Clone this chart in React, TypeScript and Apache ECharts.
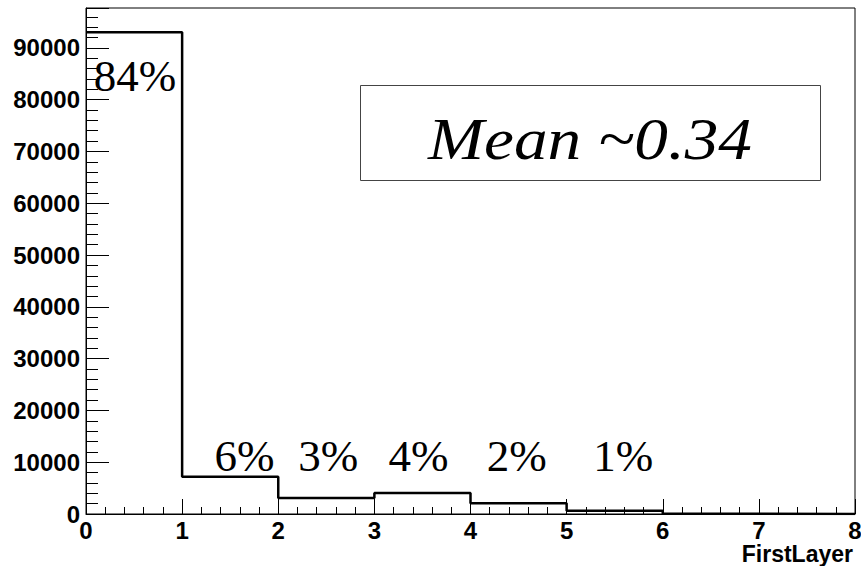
import { useEffect, useRef } from "react";
import * as echarts from "echarts";

// Histogram of the first layer hit: bin lower edges and entries per bin
const binEdges = [0, 1, 2, 3, 4, 5, 6, 7, 8];
const binCounts = [93000, 7200, 3100, 4050, 2060, 620, 60, 20];

// Share of entries written above the bins
const shareLabels = ["84%", "6%", "3%", "4%", "2%", "1%"];
const shareLabelX = [0.51, 1.65, 2.52, 3.46, 4.48, 5.59];
const shareLabelY = [84600, 11250, 11250, 11250, 11250, 11250];

const meanText = "Mean ~0.34";
const xTitle = "FirstLayer";

const Y_MAX = 97700;
const SANS = "'Liberation Sans', Arial, Helvetica, sans-serif";
const SERIF = "'Liberation Serif', 'Times New Roman', Times, serif";

export default function App() {
  const ref = useRef<HTMLDivElement>(null);

  useEffect(() => {
    if (!ref.current) return;
    const chart = echarts.init(ref.current, null, { renderer: "svg" });

    // step line through the bin edges; the last bin is closed at the upper edge
    const stepData = binEdges.map((x, i) => [x, binCounts[Math.min(i, binCounts.length - 1)]]);

    const tickFont = {
      color: "#000",
      fontFamily: SANS,
      fontWeight: "bold" as const,
      fontSize: 24,
      lineHeight: 18,
    };

    chart.setOption({
      animation: false,
      backgroundColor: "#fff",
      grid: {
        left: 86,
        right: 6,
        top: 8,
        bottom: 52,
        containLabel: false,
        outerBoundsMode: "none",
        show: true,
        borderColor: "#000",
        borderWidth: 1,
      },
      xAxis: {
        type: "value",
        min: 0,
        max: 8,
        interval: 1,
        axisLine: { show: true, lineStyle: { color: "#000", width: 1 } },
        axisTick: { show: true, inside: true, length: 15, lineStyle: { color: "#000", width: 1 } },
        minorTick: { show: true, splitNumber: 5, length: 7, lineStyle: { color: "#000", width: 1 } },
        splitLine: { show: false },
        axisLabel: { ...tickFont, margin: 7 },
      },
      yAxis: [
        {
          type: "value",
          position: "left",
          min: 0,
          max: Y_MAX,
          interval: 10000,
          axisLine: { show: true, lineStyle: { color: "#000", width: 1 } },
          axisTick: { show: true, inside: true, length: 23, lineStyle: { color: "#000", width: 1 } },
          splitLine: { show: false },
          axisLabel: {
            ...tickFont,
            margin: 6,
            formatter: (v: number) => (v % 10000 === 0 ? String(v) : ""),
          },
        },
        {
          // finer ticks every 2000 entries
          type: "value",
          position: "left",
          offset: 0,
          min: 0,
          max: Y_MAX,
          interval: 2000,
          axisLine: { show: false },
          axisTick: { show: true, inside: true, length: 12, lineStyle: { color: "#000", width: 1 } },
          axisLabel: { show: false },
          splitLine: { show: false },
        },
      ],
      series: [
        {
          type: "line",
          step: "end",
          data: stepData,
          symbol: "none",
          yAxisIndex: 0,
          lineStyle: { color: "#000", width: 2.5 },
        },
      ],
    });

    const labelGraphics = shareLabels.map((txt, i) => {
      const [px, py] = chart.convertToPixel({ gridIndex: 0 }, [shareLabelX[i], shareLabelY[i]]) as number[];
      return {
        type: "text",
        x: px,
        y: py,
        style: {
          text: txt,
          fill: "#000",
          font: `45px ${SERIF}`,
          align: "center",
          verticalAlign: "middle",
        },
      };
    });

    // x-axis title sits under the right end of the axis
    const [axisEndX, axisY] = chart.convertToPixel({ gridIndex: 0 }, [8, 0]) as number[];

    chart.setOption({
      graphic: [
        {
          type: "rect",
          shape: { x: 360.5, y: 85.5, width: 460, height: 95 },
          style: { fill: "rgba(0,0,0,0)", stroke: "#444", lineWidth: 1 },
        },
        {
          type: "text",
          x: 590,
          y: 139,
          scaleX: 1.14,
          style: {
            text: meanText,
            fill: "#000",
            font: `italic 59px ${SERIF}`,
            align: "center",
            verticalAlign: "middle",
          },
        },
        {
          type: "text",
          x: axisEndX - 2,
          y: axisY + 40,
          style: {
            text: xTitle,
            fill: "#000",
            font: `bold 23px ${SANS}`,
            align: "right",
            verticalAlign: "middle",
          },
        },
        ...labelGraphics,
      ],
    });

    return () => chart.dispose();
  }, []);

  return <div ref={ref} style={{ width: 861, height: 566, position: "absolute", left: 0, top: 0 }} />;
}
